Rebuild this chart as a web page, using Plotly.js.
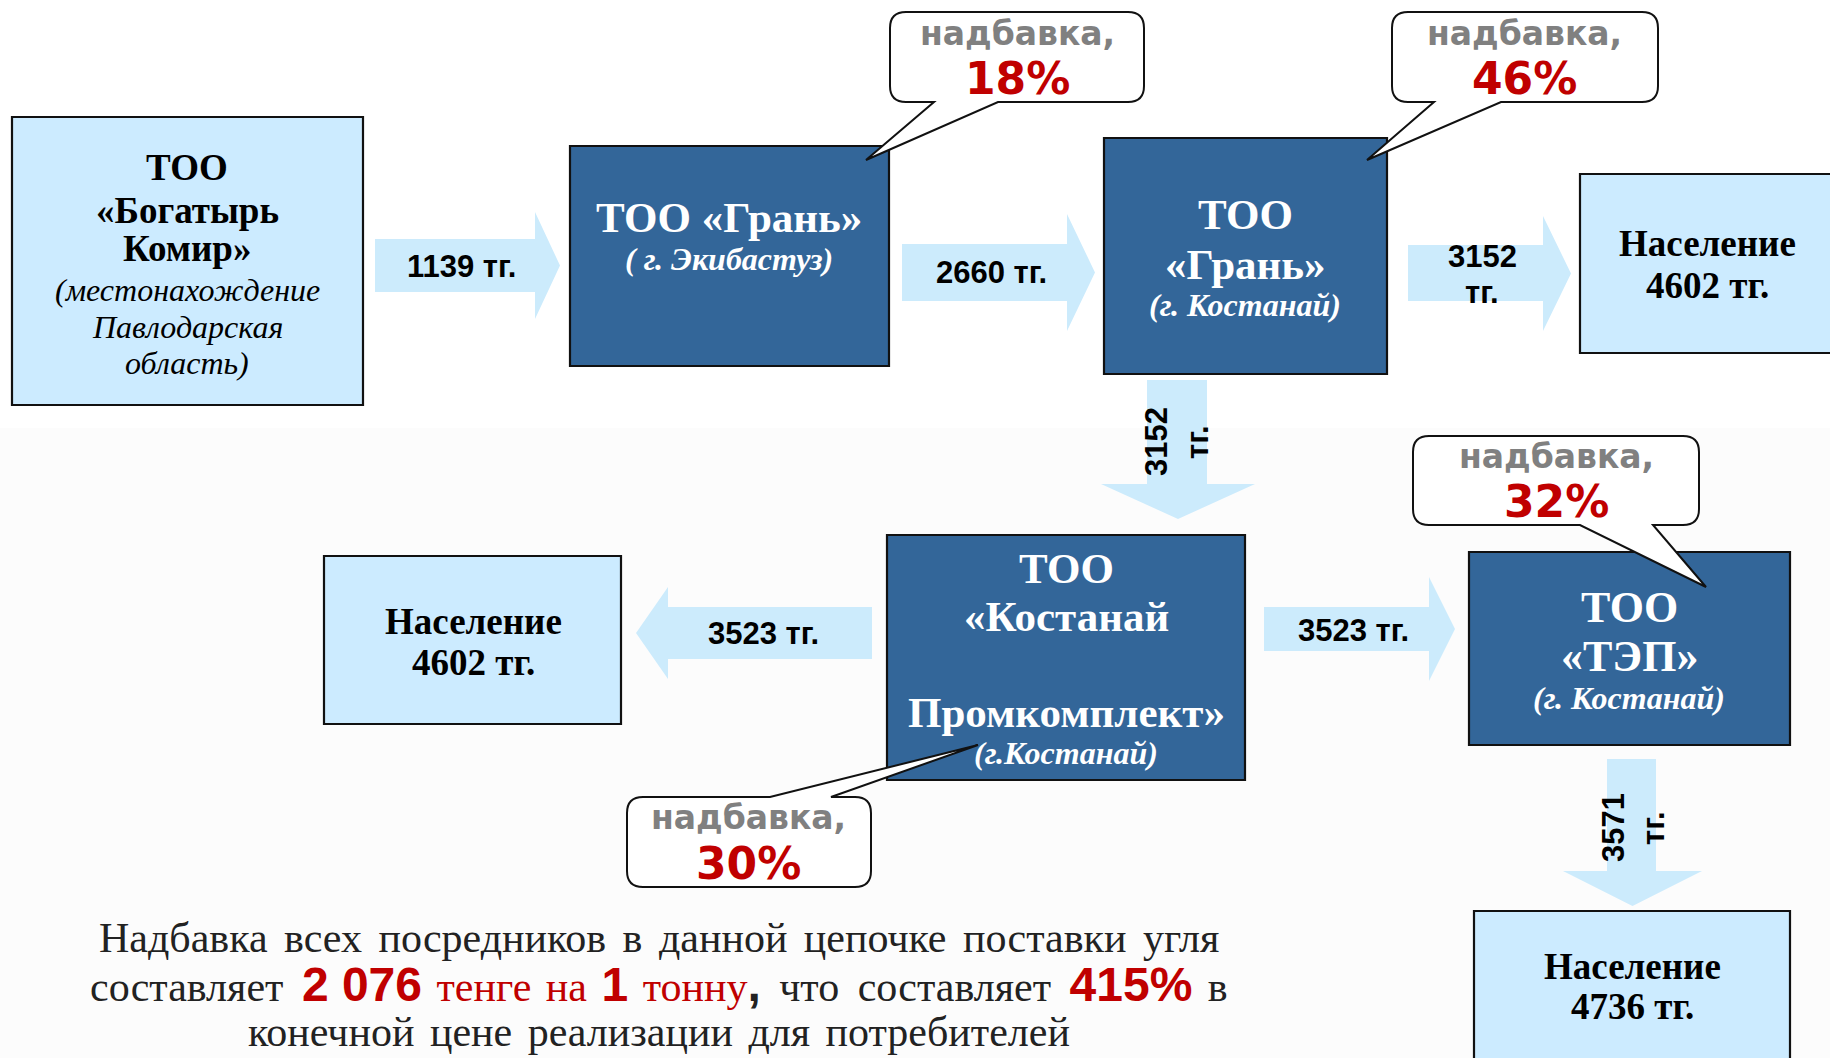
<!DOCTYPE html>
<html>
<head>
<meta charset="utf-8">
<script src="https://cdn.plot.ly/plotly-3.0.1.min.js"></script>
<style>
  html, body { margin: 0; padding: 0; background: #ffffff; }
  #chart { width: 1830px; height: 1058px; }
</style>
</head>
<body>
<div id="chart"></div>
<script>
// ---------------- DATA ----------------
// price of one tonne of coal at each step of the chain (тг.)
const flowValues = [1139, 2660, 3152, 3152, 3523, 3523, 3571];
const flowUnit = 'тг.';
// markup of each intermediary (%)
const markupPct = [18, 46, 30, 32];
const markupWord = 'надбавка,';
// final retail prices for population (тг.)
const retailPrices = [4602, 4602, 4736];
const retailWord = 'Население';
// companies
const companyTitles = [
  ['ТОО', '«Богатырь', 'Комир»'],
  ['ТОО «Грань»'],
  ['ТОО', '«Грань»'],
  ['ТОО', '«Костанай', '', 'Промкомплект»'],
  ['ТОО', '«ТЭП»']
];
const companyPlaces = [
  ['(местонахождение', 'Павлодарская', 'область)'],
  ['( г. Экибастуз)'],
  ['(г. Костанай)'],
  ['(г.Костанай)'],
  ['(г. Костанай)']
];
const totalMarkupTenge = 2076;
const totalMarkupPercent = 415;

// ---------------- STYLE / GEOMETRY ----------------
const W = 1830, H = 1058;
const DARK = '#336699', LIGHT = '#CCEBFF', ARROW = '#CCEBFC', RED = '#C00000', GRAY = '#808080';
const SERIF = 'Liberation Serif, Times New Roman, serif';
const SANS = 'Liberation Sans, Arial, sans-serif';
const CALL = 'DejaVu Sans, Verdana, sans-serif';

const shapes = [];
const annotations = [];

// faint background below the top row
shapes.push({type: 'rect', xref: 'x', yref: 'y', x0: 0, x1: W, y0: 428, y1: H,
  fillcolor: '#fcfcfc', line: {width: 0}, layer: 'below'});

function rect(x0, y0, x1, y1, fill) {
  shapes.push({type: 'rect', xref: 'x', yref: 'y', x0, y0, x1, y1,
    fillcolor: fill, line: {color: '#111111', width: 2.2}});
}
function arrowRight(bx0, bx1, by0, by1, hy0, hy1, tipX) {
  const my = (hy0 + hy1) / 2;
  const p = `M${bx0},${by0} L${bx1},${by0} L${bx1},${hy0} L${tipX},${my} L${bx1},${hy1} L${bx1},${by1} L${bx0},${by1} Z`;
  shapes.push({type: 'path', xref: 'x', yref: 'y', path: p, fillcolor: ARROW, line: {width: 0}});
}
function arrowLeft(bx0, bx1, by0, by1, hy0, hy1, tipX) {
  const my = (hy0 + hy1) / 2;
  const p = `M${bx1},${by0} L${bx0},${by0} L${bx0},${hy0} L${tipX},${my} L${bx0},${hy1} L${bx0},${by1} L${bx1},${by1} Z`;
  shapes.push({type: 'path', xref: 'x', yref: 'y', path: p, fillcolor: ARROW, line: {width: 0}});
}
function arrowDown(bx0, bx1, by0, by1, hx0, hx1, tipY) {
  const mx = (hx0 + hx1) / 2;
  const p = `M${bx0},${by0} L${bx1},${by0} L${bx1},${by1} L${hx1},${by1} L${mx},${tipY} L${hx0},${by1} L${bx0},${by1} Z`;
  shapes.push({type: 'path', xref: 'x', yref: 'y', path: p, fillcolor: ARROW, line: {width: 0}});
}
function calloutBottom(x0, y0, x1, y1, r, ta, tb, tipX, tipY) {
  const p = `M${x0 + r},${y0} L${x1 - r},${y0} Q${x1},${y0} ${x1},${y0 + r} L${x1},${y1 - r} Q${x1},${y1} ${x1 - r},${y1} ` +
    `L${tb},${y1} L${tipX},${tipY} L${ta},${y1} L${x0 + r},${y1} Q${x0},${y1} ${x0},${y1 - r} L${x0},${y0 + r} Q${x0},${y0} ${x0 + r},${y0} Z`;
  shapes.push({type: 'path', xref: 'x', yref: 'y', path: p, fillcolor: '#ffffff', line: {color: '#111111', width: 2}});
}
function calloutTop(x0, y0, x1, y1, r, ta, tb, tipX, tipY) {
  const p = `M${x0 + r},${y0} L${ta},${y0} L${tipX},${tipY} L${tb},${y0} L${x1 - r},${y0} Q${x1},${y0} ${x1},${y0 + r} L${x1},${y1 - r} Q${x1},${y1} ${x1 - r},${y1} ` +
    `L${x0 + r},${y1} Q${x0},${y1} ${x0},${y1 - r} L${x0},${y0 + r} Q${x0},${y0} ${x0 + r},${y0} Z`;
  shapes.push({type: 'path', xref: 'x', yref: 'y', path: p, fillcolor: '#ffffff', line: {color: '#111111', width: 2}});
}
function text(x, y, t, size, color, family, angle) {
  annotations.push({xref: 'x', yref: 'y', x, y, text: t, showarrow: false,
    xanchor: 'center', yanchor: 'middle', textangle: angle || 0,
    font: {size, color, family}});
}

// ---- arrows ----
arrowRight(375, 535, 239, 292, 212, 319, 560);
arrowRight(902, 1067, 244, 301, 214, 331, 1095);
arrowRight(1408, 1543, 245, 301, 216, 331, 1571);
arrowDown(1147, 1207, 380, 484, 1101, 1255, 519);
arrowLeft(668, 872, 607, 659, 587, 679, 636);
arrowRight(1264, 1429, 607, 651, 577, 681, 1455);
arrowDown(1607, 1656, 759, 871, 1563, 1702, 906);

// ---- boxes ----
rect(12, 117, 363, 405, LIGHT);
rect(570, 146, 889, 366, DARK);
rect(1104, 138, 1387, 374, DARK);
rect(1580, 174, 1840, 353, LIGHT);
rect(887, 535, 1245, 780, DARK);
rect(324, 556, 621, 724, LIGHT);
rect(1469, 552, 1790, 745, DARK);
rect(1474, 911, 1790, 1070, LIGHT);

// ---- callouts ----
calloutBottom(890, 12, 1144, 102, 16, 934, 998, 866, 160);
calloutBottom(1392, 12, 1658, 102, 16, 1434, 1501, 1367, 160);
calloutBottom(1413, 436, 1699, 525, 16, 1580, 1653, 1706, 587);
calloutTop(627, 797, 871, 887, 16, 770, 831, 978, 745);

// ---- company texts ----
const titleSize = [37, 43, 43, 43, 44];
const titleColor = ['#000000', '#ffffff', '#ffffff', '#ffffff', '#ffffff'];
const boxCx = [187, 729, 1245, 1066, 1629];
const titleY = [[167, 210, 248], [217], [214, 264], [568, 616, 664, 712], [607, 656]];
const placeY = [[290, 327, 363], [259], [305], [753], [698]];
const placeSize = [32, 32, 32, 32, 32];
companyTitles.forEach((lines, i) => {
  lines.forEach((ln, j) => {
    if (ln) text(boxCx[i], titleY[i][j], '<b>' + ln + '</b>', titleSize[i], titleColor[i], SERIF);
  });
  companyPlaces[i].forEach((ln, j) => {
    const t = i === 0 ? '<i>' + ln + '</i>' : '<b><i>' + ln + '</i></b>';
    text(boxCx[i], placeY[i][j], t, placeSize[i], titleColor[i], SERIF);
  });
});

// ---- population boxes ----
const popCx = [1707, 473, 1632];
const popY = [[243, 285], [621, 662], [966, 1006]];
retailPrices.forEach((v, i) => {
  text(popCx[i], popY[i][0], '<b>' + retailWord + '</b>', 37, '#000000', SERIF);
  text(popCx[i], popY[i][1], '<b>' + v + ' ' + flowUnit + '</b>', 37, '#000000', SERIF);
});

// ---- flow labels ----
const LBL = 31;
text(461, 266, '<b>' + flowValues[0] + ' ' + flowUnit + '</b>', LBL, '#000000', SANS);
text(991, 272, '<b>' + flowValues[1] + ' ' + flowUnit + '</b>', LBL, '#000000', SANS);
text(1482, 256, '<b>' + flowValues[2] + '</b>', LBL, '#000000', SANS);
text(1482, 292, '<b>' + flowUnit + '</b>', LBL, '#000000', SANS);
text(1156, 442, '<b>' + flowValues[3] + '</b>', LBL, '#000000', SANS, -90);
text(1197, 442, '<b>' + flowUnit + '</b>', LBL, '#000000', SANS, -90);
text(763, 633, '<b>' + flowValues[4] + ' ' + flowUnit + '</b>', LBL, '#000000', SANS);
text(1353, 630, '<b>' + flowValues[5] + ' ' + flowUnit + '</b>', LBL, '#000000', SANS);
text(1613, 828, '<b>' + flowValues[6] + '</b>', LBL, '#000000', SANS, -90);
text(1653, 828, '<b>' + flowUnit + '</b>', LBL, '#000000', SANS, -90);

// ---- markup callout texts ----
const callCx = [1017, 1524, 748, 1556];
const callY = [[33, 78], [33, 78], [817, 863], [456, 501]];
markupPct.forEach((p, i) => {
  text(callCx[i], callY[i][0], '<b>' + markupWord + '</b>', 33, GRAY, CALL);
  text(callCx[i], callY[i][1], '<b>' + p + '%</b>', 44, RED, CALL);
});

// ---- summary text ----
const fmtThousands = n => String(n).replace(/\B(?=(\d{3})+(?!\d))/g, ' ');
const SUM = 42;
const ws = px => `<span style="word-spacing:${px}px">`;
const sansRed = t => `<span style="font-family:${SANS};font-size:48px;color:${RED}"><b>${t}</b></span>`;
text(659, 938, ws(6) + 'Надбавка всех посредников в данной цепочке поставки угля</span>', SUM, '#222222', SERIF);
text(659, 984,
  ws(8) + 'составляет </span>' + sansRed(fmtThousands(totalMarkupTenge)) +
  `<span style="color:${RED};word-spacing:4px"> тенге на </span>` + sansRed('1') +
  `<span style="color:${RED};word-spacing:4px"> тонну</span><span style="font-family:${SANS};font-size:48px"><b>,</b></span>` +
  ws(8) + ' что составляет </span>' + sansRed(totalMarkupPercent + '%') + ws(5) + ' в</span>', SUM, '#222222', SERIF);
text(659, 1032, ws(5) + 'конечной цене реализации для потребителей</span>', SUM, '#222222', SERIF);

const layout = {
  width: W, height: H,
  margin: {l: 0, r: 0, t: 0, b: 0, pad: 0},
  paper_bgcolor: '#ffffff', plot_bgcolor: 'rgba(0,0,0,0)',
  showlegend: false,
  xaxis: {range: [0, W], visible: false, fixedrange: true},
  yaxis: {range: [H, 0], visible: false, fixedrange: true},
  shapes, annotations
};
Plotly.newPlot('chart', [{x: [], y: [], type: 'scatter', mode: 'markers', hoverinfo: 'skip'}], layout,
  {displayModeBar: false, staticPlot: true});
</script>
</body>
</html>
